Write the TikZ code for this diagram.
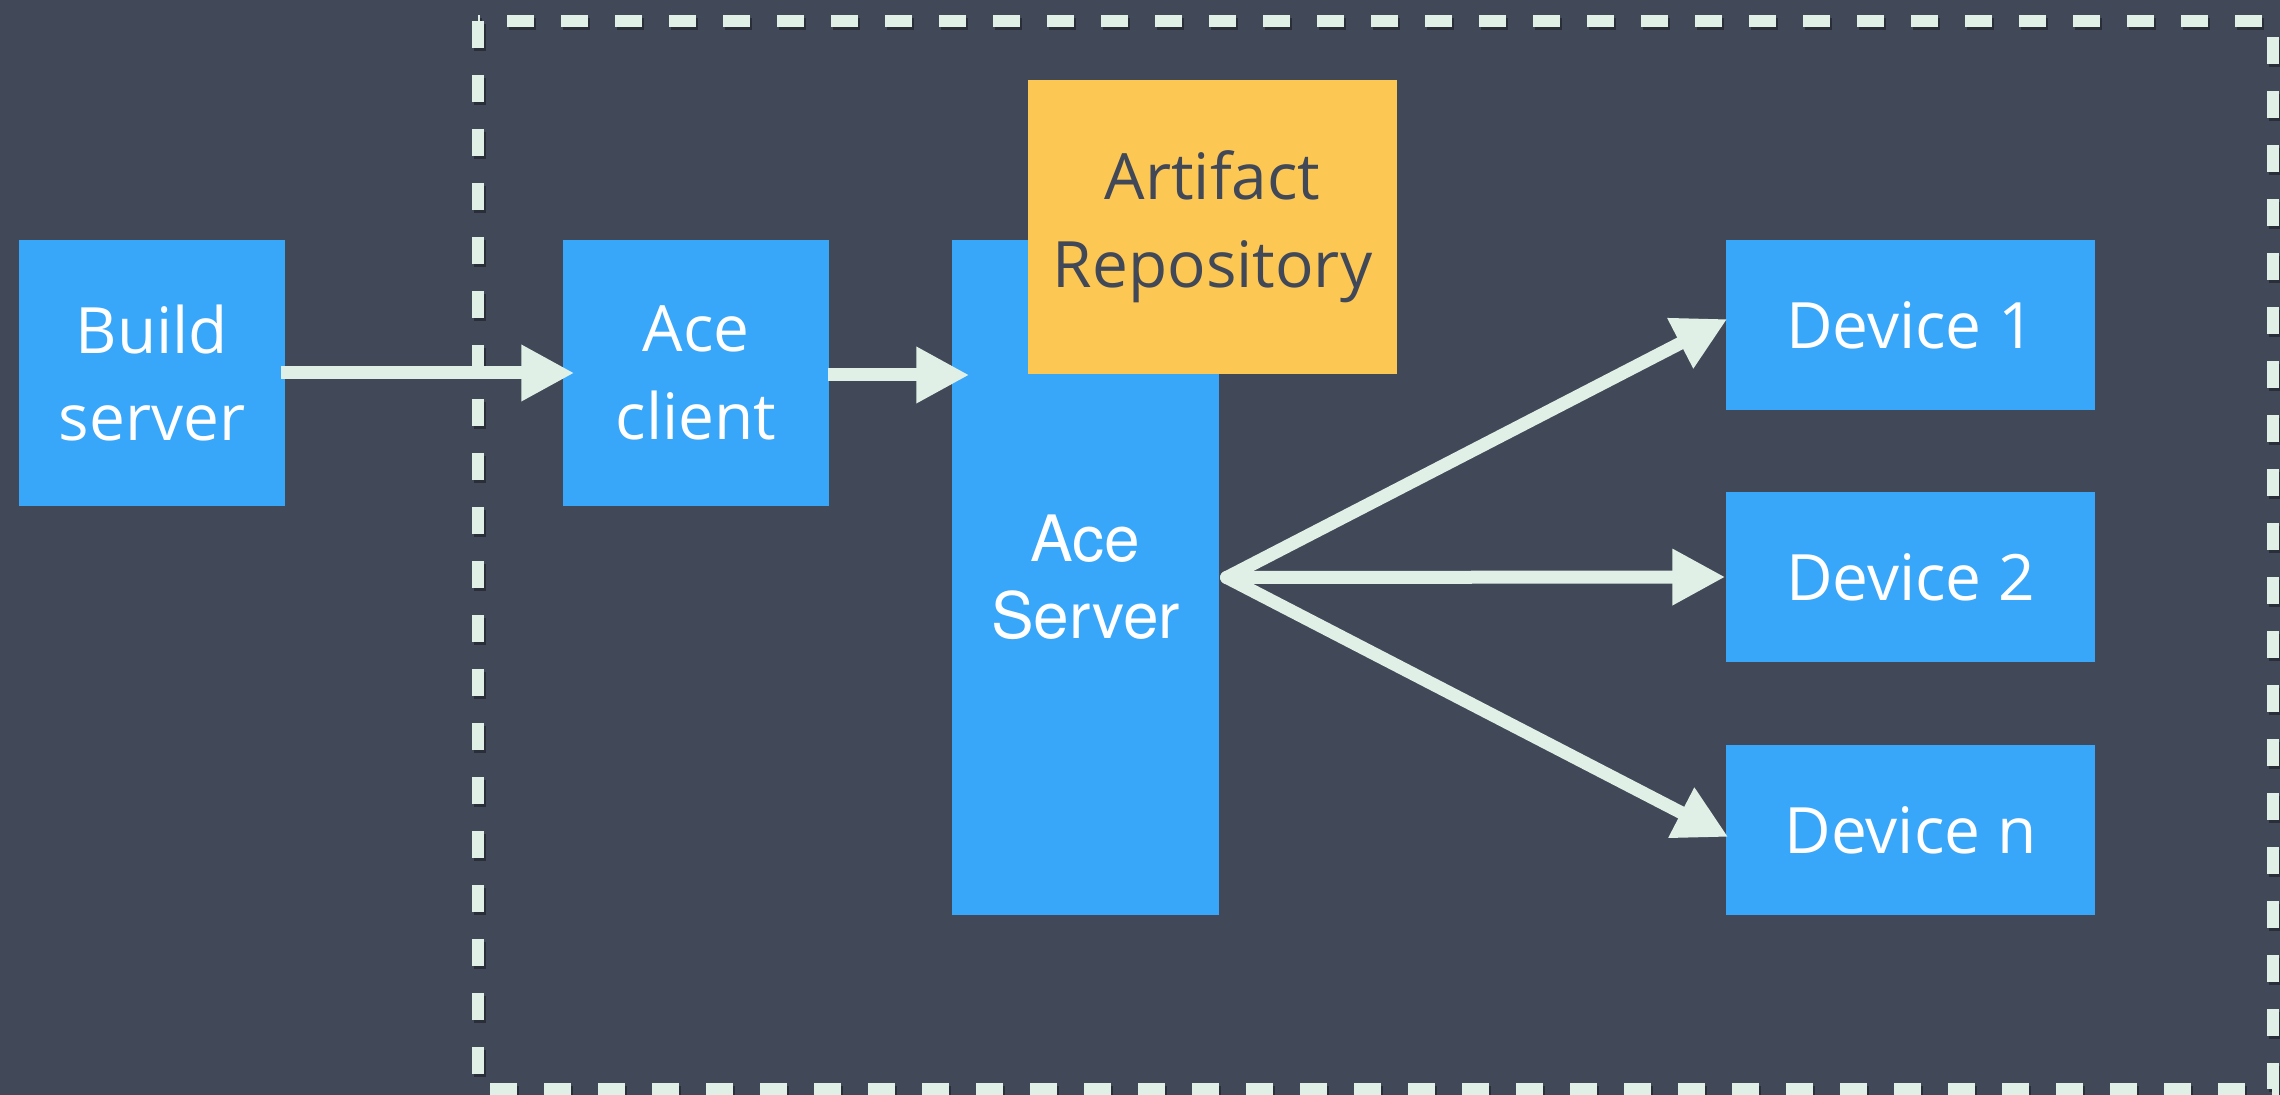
\documentclass[tikz,border=0pt]{standalone}
\usepackage{fontspec}
\setmainfont{Open Sans}
\newfontfamily\herosfont{TeX Gyre Heros}
\usetikzlibrary{arrows.meta}
\definecolor{bgc}{HTML}{414858}
\definecolor{boxblue}{HTML}{38A6F9}
\definecolor{boxyellow}{HTML}{FDC753}
\definecolor{arrowc}{HTML}{E0F0E7}
\tikzset{
  bluebox/.style={fill=boxblue, draw=none, inner sep=0pt, text=white, align=center,
    font=\fontsize{18.2}{25}\selectfont},
  yellowbox/.style={fill=boxyellow, draw=none, inner sep=0pt, text=bgc, align=center,
    font=\fontsize{18.2}{25}\selectfont},
  flow/.style={draw=arrowc, line width=0.13cm, line cap=butt,
    -{Triangle[length=0.53cm, width=0.53cm]}},
  fanflow/.style={flow, line cap=round},
  border/.style={draw=arrowc, line width=0.12cm, dash pattern=on 0.27cm off 0.27cm},
  bordershadow/.style={draw=black, opacity=0.35, line width=0.12cm, dash pattern=on 0.27cm off 0.27cm}
}
\begin{document}
\begin{tikzpicture}
\fill[bgc] (0,0) rectangle (22.8,-10.95);
\useasboundingbox (0,0) rectangle (22.8,-10.95);

% dashed boundary
\draw[bordershadow] (4.80,-0.24) rectangle (22.75,-10.92);
\draw[border] (4.78,-0.21) rectangle (22.73,-10.89);

% nodes
\node[bluebox, minimum width=2.66cm, minimum height=2.66cm] (build) at (1.52,-3.73) {Build\\server};
\node[bluebox, minimum width=2.66cm, minimum height=2.66cm] (client) at (6.96,-3.73) {Ace\\client};
\node[bluebox, minimum width=2.67cm, minimum height=6.75cm,
  font=\herosfont\fontsize{18.2}{22}\selectfont] (server) at (10.855,-5.775) {Ace\\Server};
\node[yellowbox, minimum width=3.69cm, minimum height=2.94cm] (repo) at (12.125,-2.27) {Artifact\\Repository};
\node[bluebox, minimum width=3.69cm, minimum height=1.70cm] (d1) at (19.105,-3.25) {Device 1};
\node[bluebox, minimum width=3.69cm, minimum height=1.70cm] (d2) at (19.105,-5.77) {Device 2};
\node[bluebox, minimum width=3.69cm, minimum height=1.70cm] (dn) at (19.105,-8.30) {Device n};

\coordinate (fan) at ([xshift=0.07cm]server.east);

% connectors
\draw[flow] ([xshift=-0.05cm]build.east) -- ([xshift=0.12cm]client.west);
\draw[flow] ([xshift=-0.02cm,yshift=-0.02cm]client.east) -- ([xshift=0.18cm,yshift=-0.02cm]server.west |- client.east);
\draw[fanflow] (fan) -- ([xshift=0.02cm,yshift=0.06cm]d1.west);
\draw[fanflow] (fan) -- (d2.west);
\draw[fanflow] (fan) -- ([xshift=0.03cm,yshift=-0.07cm]dn.west);
\end{tikzpicture}
\end{document}
